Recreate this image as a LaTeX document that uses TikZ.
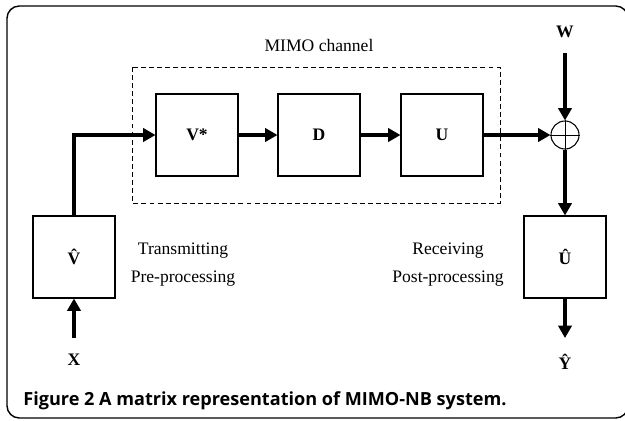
\documentclass[tikz,border=0pt]{standalone}
\usepackage{fontspec}
\setmainfont{Liberation Serif}
\newfontfamily\capfont{Open Sans}
\usetikzlibrary{arrows.meta}

\tikzset{
  blk/.style={draw, line width=0.6pt, minimum size=1.64cm, inner sep=0pt, font=\bfseries},
  flow/.style={line width=2.2pt, -{Triangle[length=7pt,width=7.5pt]}},
  lbl/.style={font=\bfseries, inner sep=0pt},
}

\begin{document}
\begin{tikzpicture}[x=0.02cm, y=-0.02cm]
      \useasboundingbox (0,0) rectangle (625,420);
      \draw[line width=0.8pt, rounded corners=7pt] (7,6) rectangle (628,418);
      % channel
      \draw[line width=0.45pt, dash pattern=on 2.8pt off 1.8pt] (132,67) rectangle (500,203);
      \node (chan) at (319,45) {MIMO channel};
      \node [blk] (vs) at (197,135) {V*};
      \node [blk] (d) at (319,135) {D};
      \node [blk] (u) at (442,135) {U};
      \node [circle, draw, line width=0.6pt, inner sep=0pt, minimum size=0.56cm] (sum) at (565,135) {};
      \draw[line width=0.5pt] (sum.north) -- (sum.south) (sum.west) -- (sum.east);
      % pre and post processing
      \node [blk] (vh) at (74,257) {\^{V}};
      \node [blk] (uh) at (565,257) {\^{U}};
      \node [align=center] (tx) at (183,265) {Transmitting\\[4pt]Pre-processing};
      \node [align=center] (rx) at (448,265) {Receiving\\[4pt]Post-processing};
      \node [lbl] (x) at (74,360) {X};
      \node [lbl] (w) at (565,32) {W};
      \node [lbl] (y) at (565,362) {\^{Y}};
      \coordinate (xin) at (74,338);
      \coordinate (win) at (565,53);
      \coordinate (yout) at (565,338);
      \draw[flow] (xin) -- (vh.south);
      \draw[flow] (vh.north) |- (vs.west);
      \draw[flow] (vs) -- (d);
      \draw[flow] (d) -- (u);
      \draw[flow] (u) -- (sum);
      \draw[flow] (win) -- (sum.north);
      \draw[flow] (sum.south) -- (uh.north);
      \draw[flow] (uh.south) -- (yout);
      \node [anchor=base west, inner sep=0pt, font=\capfont\bfseries\fontsize{10.3}{12}\selectfont] (cap) at (23,405) {Figure 2 A matrix representation of MIMO-NB system.};
\end{tikzpicture}
\end{document}
